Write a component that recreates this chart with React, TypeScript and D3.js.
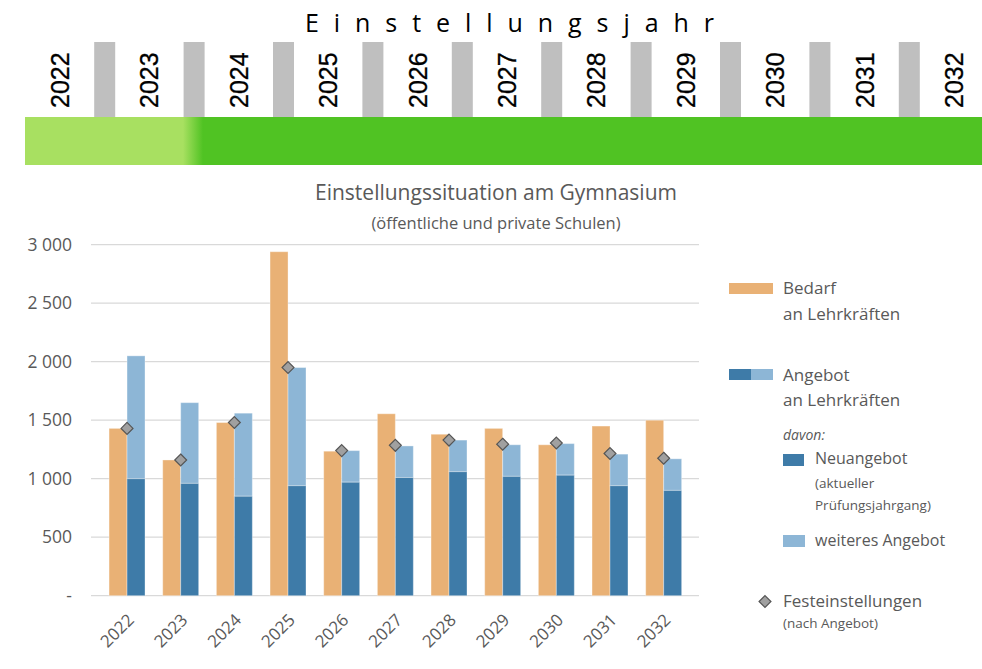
import React from 'react';
import * as d3 from 'd3';

// --- Data ---
const years = ['2022', '2023', '2024', '2025', '2026', '2027', '2028', '2029', '2030', '2031', '2032'];
const bedarf = [1430, 1160, 1480, 2940, 1235, 1555, 1380, 1430, 1290, 1450, 1500];
const neuangebot = [1000, 960, 850, 940, 970, 1010, 1060, 1020, 1030, 940, 900];
const angebotGesamt = [2050, 1650, 1560, 1950, 1240, 1280, 1330, 1290, 1300, 1210, 1170];
const festeinstellungen = [1430, 1160, 1480, 1950, 1240, 1285, 1330, 1295, 1305, 1215, 1175];
const yTicks = [0, 500, 1000, 1500, 2000, 2500, 3000];

const C = {
    orange: '#E9B175',
    darkBlue: '#3E7BA8',
    lightBlue: '#8DB6D6',
    grid: '#D9D9D9',
    text: '#595959',
    diamond: '#A0A0A0',
    diamondStroke: '#555555',
    gray: '#BFBFBF',
    greenLight: '#A8E061',
    green: '#50C323',
};

const FONT = '"Open Sans", "Noto Sans", sans-serif';

// thousands separated by a space, zero shown as a dash
const fmt = (v) => (v === 0 ? '-' : d3.format(',')(v).replace(/,/g, ' '));

// --- Header with years timeline ---
const Header = () => {
    const x = d3.scalePoint().domain(years).range([60, 954]);
    const step = x.step();
    return (
        <g>
            <text x={305} y={32} textLength={409} lengthAdjust="spacing" fontFamily={FONT} fontSize={25} fill="#000">
                Einstellungsjahr
            </text>
            {years.slice(0, -1).map(y => (
                <rect key={y} x={x(y) + step / 2 - 10.5} y={42} width={21} height={76} fill={C.gray} />
            ))}
            <defs>
                <linearGradient id="greenGrad" x1="25" x2="982" y1="0" y2="0" gradientUnits="userSpaceOnUse">
                    <stop offset={(183 - 25) / 957} stopColor={C.greenLight} />
                    <stop offset={(203 - 25) / 957} stopColor={C.green} />
                </linearGradient>
            </defs>
            <rect x={25} y={117} width={957} height={48} fill="url(#greenGrad)" />
            {years.map(y => (
                <text key={y} transform={`translate(${x(y) + 9},108) rotate(-90)`} fontFamily='"Liberation Sans", Arial, sans-serif'
                    fontSize={25} fill="#000" stroke="#000" strokeWidth={0.3}>{y}</text>
            ))}
        </g>
    );
};

// --- Main chart ---
const Chart = () => {
    const xOuter = d3.scaleBand().domain(years).range([100.2, 690.5]).paddingInner(0.33).paddingOuter(0.165);
    const xInner = d3.scaleBand().domain(['bedarf', 'angebot']).range([0, xOuter.bandwidth()]);
    const y = d3.scaleLinear().domain([0, 3000]).range([595.7, 244.7]);
    const bw = xInner.bandwidth();
    const diamond = d3.symbol().type(d3.symbolDiamond2).size(90);

    return (
        <g fontFamily={FONT}>
            <text x={496} y={200} textAnchor="middle" fontSize={21} fill={C.text}>
                Einstellungssituation am Gymnasium
            </text>
            <text x={496} y={229} textAnchor="middle" fontSize={16.5} fill={C.text}>
                (öffentliche und private Schulen)
            </text>

            {yTicks.map(t => (
                <g key={t}>
                    <line x1={91} x2={699} y1={y(t)} y2={y(t)} stroke={C.grid} strokeWidth={1.3} />
                    <text x={72} y={y(t)} dy="0.35em" textAnchor="end" fontSize={17.5} fill={C.text}>{fmt(t)}</text>
                </g>
            ))}

            {years.map((yr, i) => {
                const x0 = xOuter(yr);
                return (
                    <g key={yr}>
                        <rect x={x0 + xInner('bedarf')} y={y(bedarf[i])} width={bw} height={y(0) - y(bedarf[i])}
                            fill={C.orange} stroke="#fff" strokeOpacity={0.35} strokeWidth={1} />
                        <rect x={x0 + xInner('angebot')} y={y(angebotGesamt[i])} width={bw} height={y(neuangebot[i]) - y(angebotGesamt[i])}
                            fill={C.lightBlue} stroke="#fff" strokeOpacity={0.35} strokeWidth={1} />
                        <rect x={x0 + xInner('angebot')} y={y(neuangebot[i])} width={bw} height={y(0) - y(neuangebot[i])}
                            fill={C.darkBlue} stroke="#fff" strokeOpacity={0.35} strokeWidth={1} />
                    </g>
                );
            })}

            {years.map((yr, i) => (
                <path key={yr} d={diamond()} transform={`translate(${xOuter(yr) + xOuter.bandwidth() / 2},${y(festeinstellungen[i])})`}
                    fill={C.diamond} stroke={C.diamondStroke} strokeWidth={1.2} />
            ))}

            {years.map(yr => (
                <text key={yr} transform={`translate(${xOuter(yr) + xOuter.bandwidth() / 2 + 8},621) rotate(-45)`}
                    textAnchor="end" fontSize={17} fill={C.text}>{yr}</text>
            ))}
        </g>
    );
};

// --- Legend ---
const Legend = () => {
    const diamond = d3.symbol().type(d3.symbolDiamond2).size(90);
    return (
        <g fontFamily={FONT} fill={C.text}>
            <rect x={729} y={283} width={44} height={11} fill={C.orange} />
            <text x={783} y={294} fontSize={17}>Bedarf</text>
            <text x={783} y={320} fontSize={17}>an Lehrkräften</text>

            <rect x={729} y={369} width={22} height={11} fill={C.darkBlue} />
            <rect x={751} y={369} width={22} height={11} fill={C.lightBlue} />
            <text x={783} y={381} fontSize={17}>Angebot</text>
            <text x={783} y={406} fontSize={17}>an Lehrkräften</text>

            <text x={783} y={440} fontSize={14} fontStyle="italic">davon:</text>
            <rect x={783} y={454} width={21} height={12} fill={C.darkBlue} />
            <text x={815} y={464} fontSize={16}>Neuangebot</text>
            <text x={815} y={488} fontSize={13.5}>(aktueller</text>
            <text x={815} y={510} fontSize={13.5}>Prüfungsjahrgang)</text>

            <rect x={783} y={535} width={22} height={12} fill={C.lightBlue} />
            <text x={815} y={546} fontSize={16}>weiteres Angebot</text>

            <path d={diamond()} transform="translate(765,601.5)" fill={C.diamond} stroke={C.diamondStroke} strokeWidth={1.2} />
            <text x={783} y={607} fontSize={17}>Festeinstellungen</text>
            <text x={783} y={628} fontSize={13.5}>(nach Angebot)</text>
        </g>
    );
};

export default function App() {
    return (
        <div style={{ position: 'absolute', left: 0, top: 0 }}>
            <svg width={982} height={669} style={{ display: 'block', background: '#fff' }}>
                <Header />
                <Chart />
                <Legend />
            </svg>
        </div>
    );
}
